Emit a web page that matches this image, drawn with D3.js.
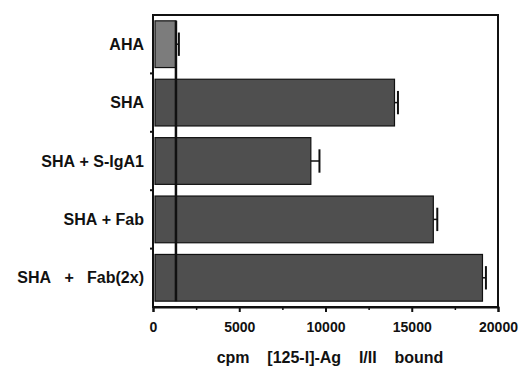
<!DOCTYPE html>
<html>
<head>
<meta charset="utf-8">
<script src="https://cdn.jsdelivr.net/npm/d3@7"></script>
<style>
  body { margin: 0; background: #fff; overflow: hidden; }
  svg { display: block; }
  text { font-family: "Liberation Sans", Arial, sans-serif; font-weight: bold; }
</style>
</head>
<body>
<div id="chart"></div>
<script>
const categories = ["AHA", "SHA", "SHA + S-IgA1", "SHA + Fab", "SHA   +   Fab(2x)"];
const values = [1330, 14000, 9150, 16250, 19100];
const errors = [170, 200, 500, 230, 200];
const xTicks = [0, 5000, 10000, 15000, 20000];
const xMinorTicks = [2500, 7500, 12500, 17500];
const xTitle = "cpm    [125-I]-Ag    I/II    bound";

const width = 528, height = 369;
const margin = { top: 15, right: 30, bottom: 62, left: 153 };
const innerWidth = width - margin.left - margin.right;
const innerHeight = height - margin.top - margin.bottom;

// keep runs of spaces visible
const keepSpaces = s => s.replace(/ /g, "\u00a0");

const svg = d3.select("#chart").append("svg")
  .attr("width", width)
  .attr("height", height);

const g = svg.append("g")
  .attr("transform", `translate(${margin.left},${margin.top})`);

const x = d3.scaleLinear().domain([0, 20000]).range([0, innerWidth]);
const y = d3.scaleBand().domain(categories).range([0, innerHeight]).paddingInner(0.2).paddingOuter(0.1);

// frame
g.append("rect")
  .attr("x", 0).attr("y", 0)
  .attr("width", innerWidth).attr("height", innerHeight)
  .attr("fill", "none").attr("stroke", "#111").attr("stroke-width", 2);

// bars
g.selectAll(".bar")
  .data(values)
  .enter().append("rect")
  .attr("class", "bar")
  .attr("x", x(0) + 2)
  .attr("y", (d, i) => y(categories[i]))
  .attr("width", d => x(d) - x(0) - 2)
  .attr("height", y.bandwidth())
  .attr("fill", (d, i) => i === 0 ? "#7c7c7c" : "#4f4f4f")
  .attr("stroke", "#111")
  .attr("stroke-width", 1.2);

// error bars
const eb = g.selectAll(".err")
  .data(values)
  .enter().append("g")
  .attr("class", "err");
eb.append("line")
  .attr("x1", d => x(d))
  .attr("x2", (d, i) => x(d + errors[i]))
  .attr("y1", (d, i) => y(categories[i]) + y.bandwidth() / 2)
  .attr("y2", (d, i) => y(categories[i]) + y.bandwidth() / 2)
  .attr("stroke", "#111").attr("stroke-width", 1.5);
eb.append("line")
  .attr("x1", (d, i) => x(d + errors[i]))
  .attr("x2", (d, i) => x(d + errors[i]))
  .attr("y1", (d, i) => y(categories[i]) + y.bandwidth() * 0.25)
  .attr("y2", (d, i) => y(categories[i]) + y.bandwidth() * 0.75)
  .attr("stroke", "#111").attr("stroke-width", 2);

// AHA reference line
g.append("line")
  .attr("x1", x(values[0])).attr("x2", x(values[0]))
  .attr("y1", y(categories[0]))
  .attr("y2", y(categories[categories.length - 1]) + y.bandwidth())
  .attr("stroke", "#111").attr("stroke-width", 2.5);

// x axis
const xAxis = g.append("g")
  .attr("transform", `translate(0,${innerHeight})`)
  .call(d3.axisBottom(x).tickValues(xTicks).tickFormat(d3.format("d")).tickSize(5).tickPadding(10));
xAxis.select(".domain").attr("stroke", "#111").attr("stroke-width", 2);
xAxis.selectAll(".tick line").attr("stroke", "#111").attr("stroke-width", 2);
xAxis.selectAll("text")
  .attr("font-size", 14)
  .attr("font-family", "'Liberation Sans', Arial, sans-serif")
  .attr("font-weight", "bold")
  .attr("fill", "#111");

g.append("g")
  .attr("transform", `translate(0,${innerHeight})`)
  .call(d3.axisBottom(x).tickValues(xMinorTicks).tickFormat("").tickSize(3))
  .call(s => s.select(".domain").remove())
  .selectAll(".tick line").attr("stroke", "#111").attr("stroke-width", 1.5);

// y category ticks at band boundaries
const step = y.step();
const boundaries = categories.map((c, i) => y(c) - step * y.paddingInner() / 2).slice(1);
g.selectAll(".ytick")
  .data(boundaries)
  .enter().append("line")
  .attr("x1", -3).attr("x2", 0)
  .attr("y1", d => d).attr("y2", d => d)
  .attr("stroke", "#111").attr("stroke-width", 2);

// y labels
g.selectAll(".ylabel")
  .data(categories)
  .enter().append("text")
  .attr("class", "ylabel")
  .attr("x", -9)
  .attr("y", d => y(d) + y.bandwidth() / 2)
  .attr("dy", "0.35em")
  .attr("text-anchor", "end")
  .attr("font-size", 16)
  .attr("fill", "#111")
  .text(d => keepSpaces(d));

// x title
svg.append("text")
  .attr("x", 330)
  .attr("y", 363)
  .attr("text-anchor", "middle")
  .attr("font-size", 16)
  .attr("fill", "#111")
  .text(keepSpaces(xTitle));
</script>
</body>
</html>
